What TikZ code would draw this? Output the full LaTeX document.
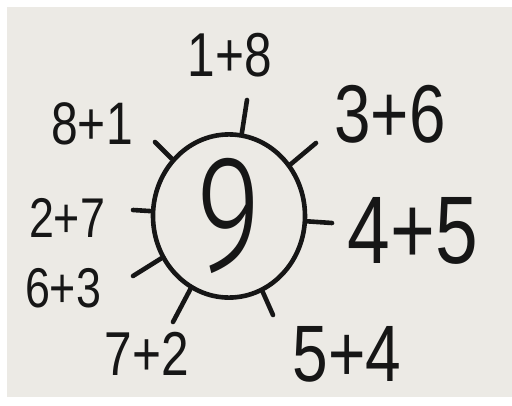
\documentclass[tikz,border=0pt]{standalone}
\usepackage{fontspec}
\newfontfamily\handfont[FakeStretch=0.8]{Liberation Sans}
\newfontfamily\thinfont[FakeStretch=0.75]{Fira Sans Light}
\usetikzlibrary{shapes.geometric}
\definecolor{paper}{RGB}{236, 234, 229}
\definecolor{ink}{RGB}{22, 22, 22}

\begin{document}
\begin{tikzpicture}[x=1pt, y=-1pt,
        spoke/.style={draw=ink, line width=4.6pt, line cap=round},
        sumlabel/.style={text=ink, inner sep=0pt, font=\handfont\fontsize{#1}{#1}\selectfont},
        hubnode/.style={ellipse, draw=ink, line width=4.6pt, inner sep=0pt,
                        minimum width=152pt, minimum height=162pt}]

    \useasboundingbox (0,0) rectangle (512,405);
    \fill[paper] (7,7) rectangle (512,397);

    % --- środek ---
    \node[hubnode, text=ink, font=\thinfont\fontsize{166}{166}\selectfont] (hub) at (229,216) {9};

    % --- końce promieni ---
    \coordinate (t18) at (247,100);
    \coordinate (t81) at (155,142);
    \coordinate (t36) at (316,143);
    \coordinate (t27) at (133,210);
    \coordinate (t45) at (332,223);
    \coordinate (t63) at (133,276);
    \coordinate (t72) at (173,322);
    \coordinate (t54) at (273,315);

    % --- promienie ---
    \foreach \t in {t18,t81,t36,t27,t45,t63,t72,t54}
        \draw[spoke] (hub) -- (\t);

    % --- sumy ---
    \node[sumlabel=62] (l18) at (230,55)  {1+8};
    \node[sumlabel=60] (l81) at (92,124)  {8+1};
    \node[sumlabel=82] (l36) at (390,114) {3+6};
    \node[sumlabel=56] (l27) at (67,218)  {2+7};
    \node[sumlabel=96] (l45) at (413,231) {4+5};
    \node[sumlabel=56] (l63) at (63,288)  {6+3};
    \node[sumlabel=62] (l72) at (147,354) {7+2};
    \node[sumlabel=80] (l54) at (347,354) {5+4};

    \end{tikzpicture}
\end{document}
